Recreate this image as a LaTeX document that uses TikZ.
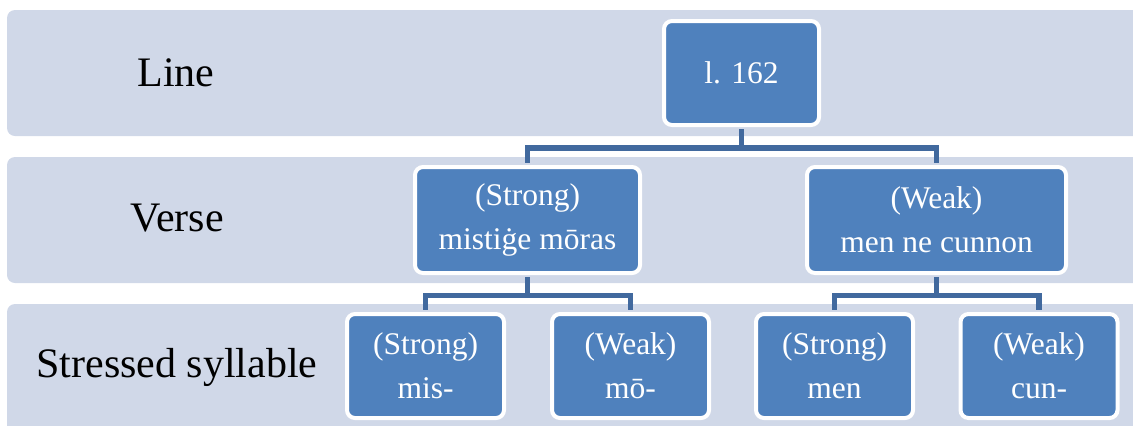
\documentclass[tikz,border=0pt]{standalone}
\usepackage{fontspec}
\setmainfont{Liberation Serif}
\definecolor{bandfill}{HTML}{D0D8E8}
\definecolor{boxfill}{HTML}{4F81BD}
\definecolor{linkcol}{HTML}{41699E}
\begin{document}
\begin{tikzpicture}[x = 0.5pt, y = -0.5pt,
		band/.style = {fill = bandfill, rounded corners = 4pt},
		box/.style = {draw = white, line width = 2pt, fill = boxfill, rounded corners = 4pt, text = white, align = center, inner sep = 0pt, minimum height = 52pt, font = \fontsize{15.75}{22}\selectfont},
		link/.style = {draw = linkcol, line width = 2.6pt, shorten < = 1pt, shorten > = 1pt},
		level/.style = {font = \fontsize{21}{25}\selectfont}]
		\useasboundingbox (0,0) rectangle (1133,425);
		\clip (0,0) rectangle (1133,425);
		\fill [band] (7,10) rectangle (1145,136);
		\fill [band] (7,157) rectangle (1145,283);
		\fill [band] (7,304) rectangle (1145,440);
		\node [level] (lline) at (176,73) {Line};
		\node [level] (lverse) at (177,218) {Verse};
		\node [level] (lsyll) at (177,367) {Stressed syllable};
		\node [box, minimum width = 77.5pt] (line) at (741.5,73) {l. 162};
		\node [box, minimum width = 112.5pt, minimum height = 53pt] (vs) at (527.5,220) {(Strong)\\mistiġe mōras};
		\node [box, minimum width = 129.5pt, minimum height = 53pt] (vw) at (936.5,220) {(Weak)\\men ne cunnon};
		\node [box, minimum width = 78.5pt] (mis) at (425.5,366) {(Strong)\\mis-};
		\node [box, minimum width = 78.5pt] (mo) at (630.5,366) {(Weak)\\mō-};
		\node [box, minimum width = 78.5pt] (men) at (834.5,366) {(Strong)\\men};
		\node [box, minimum width = 78.5pt] (cun) at (1039,366) {(Weak)\\cun-};
		\draw [link] (line.south) -- ++(0,21) -| (vs.north);
		\draw [link] (line.south) -- ++(0,21) -| (vw.north);
		\draw [link] (vs.south) -- ++(0,20.5) -| (mis.north);
		\draw [link] (vs.south) -- ++(0,20.5) -| (mo.north);
		\draw [link] (vw.south) -- ++(0,20.5) -| (men.north);
		\draw [link] (vw.south) -- ++(0,20.5) -| (cun.north);
	\end{tikzpicture}
\end{document}
